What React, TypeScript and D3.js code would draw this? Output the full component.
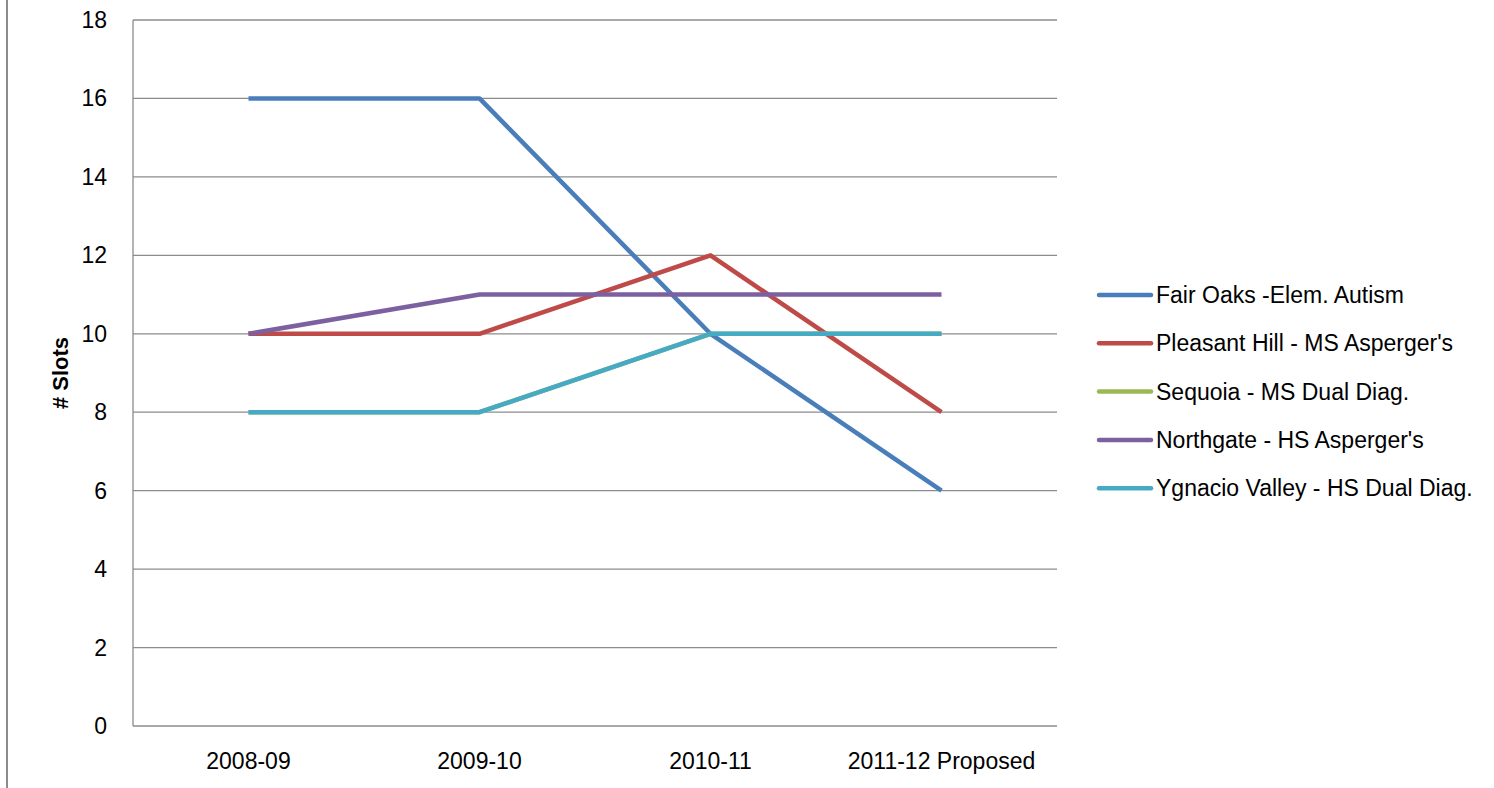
import React, { useEffect, useRef } from 'react';
import * as d3 from 'd3';

const categories = ['2008-09', '2009-10', '2010-11', '2011-12 Proposed'];
const seriesNames = [
  'Fair Oaks -Elem. Autism',
  "Pleasant Hill - MS Asperger's",
  'Sequoia - MS Dual Diag.',
  "Northgate - HS Asperger's",
  'Ygnacio Valley - HS Dual Diag.',
];
const fairOaks = [16, 16, 10, 6];
const pleasantHill = [10, 10, 12, 8];
const sequoia = [8, 8, 10, 10];
const northgate = [10, 11, 11, 11];
const ygnacio = [8, 8, 10, 10];
const yTicks = [0, 2, 4, 6, 8, 10, 12, 14, 16, 18];
const colors = ['#4A7EBB', '#BE4B48', '#98B954', '#7D60A0', '#46AAC5'];

const W = 1494;
const H = 788;
const FONT = '"Liberation Sans", Arial, sans-serif';

const App = () => {
  const ref = useRef<SVGSVGElement>(null);

  useEffect(() => {
    if (!ref.current) return;
    const svg = d3.select(ref.current);
    svg.selectAll('*').remove();

    const left = 133, right = 1057, top = 20, bottom = 726;
    const series = [fairOaks, pleasantHill, sequoia, northgate, ygnacio];

    const x = d3.scaleBand().domain(categories).range([left, right]);
    const y = d3.scaleLinear().domain([0, 18]).range([bottom, top]);

    // outer frame line on the left
    svg.append('line')
      .attr('x1', 7).attr('x2', 7).attr('y1', 0).attr('y2', H)
      .attr('stroke', '#8c8c8c').attr('stroke-width', 2);

    // gridlines
    svg.append('g')
      .selectAll('line')
      .data(yTicks)
      .join('line')
      .attr('x1', left).attr('x2', right)
      .attr('y1', d => y(d)).attr('y2', d => y(d))
      .attr('stroke', '#8c8c8c').attr('stroke-width', 1.3);

    // y axis line
    svg.append('line')
      .attr('x1', left).attr('x2', left).attr('y1', top).attr('y2', bottom)
      .attr('stroke', '#8c8c8c').attr('stroke-width', 1.3);

    // y tick labels
    svg.append('g')
      .selectAll('text')
      .data(yTicks)
      .join('text')
      .attr('x', 107).attr('y', d => y(d))
      .attr('dy', '0.35em')
      .attr('text-anchor', 'end')
      .style('font-family', FONT).style('font-size', '23px').style('fill', '#000')
      .text(d => d);

    // x tick labels
    svg.append('g')
      .selectAll('text')
      .data(categories)
      .join('text')
      .attr('x', d => (x(d) as number) + x.bandwidth() / 2)
      .attr('y', 769)
      .attr('text-anchor', 'middle')
      .style('font-family', FONT).style('font-size', '23px').style('fill', '#000')
      .text(d => d);

    // y axis title
    svg.append('text')
      .attr('transform', `translate(68, ${(top + bottom) / 2}) rotate(-90)`)
      .attr('text-anchor', 'middle')
      .style('font-family', FONT).style('font-size', '22px').style('font-weight', 'bold')
      .text('# Slots');

    const line = d3.line<number>()
      .x((d, i) => (x(categories[i]) as number) + x.bandwidth() / 2)
      .y(d => y(d));

    series.forEach((s, i) => {
      svg.append('path')
        .datum(s)
        .attr('d', line)
        .attr('fill', 'none')
        .attr('stroke', colors[i])
        .attr('stroke-width', 4.5)
        .attr('stroke-linejoin', 'round');
    });

    // legend
    const leg = svg.append('g');
    seriesNames.forEach((name, i) => {
      const ly = 295 + i * 48.3;
      leg.append('line')
        .attr('x1', 1099).attr('x2', 1151).attr('y1', ly).attr('y2', ly)
        .attr('stroke', colors[i]).attr('stroke-width', 4.5).attr('stroke-linecap', 'round');
      leg.append('text')
        .attr('x', 1156).attr('y', ly).attr('dy', '0.35em')
        .style('font-family', FONT).style('font-size', '23px')
        .text(name);
    });
  }, []);

  return (
    <svg ref={ref} width={W} height={H} style={{ position: 'absolute', left: 0, top: 0, background: '#fff' }} />
  );
};

export default App;
